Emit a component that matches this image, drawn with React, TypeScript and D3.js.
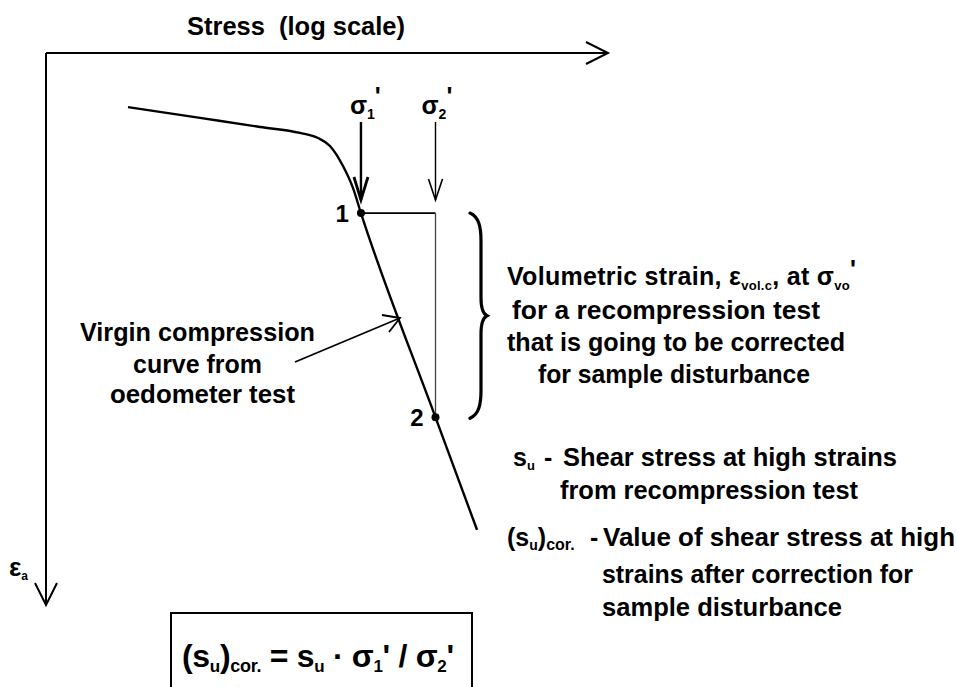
import React from "react";
import * as d3 from "d3";

const W = 957;
const H = 687;

// Oedometer curve (stress on log scale, axial strain in %)
const curveStress = [2.74, 6.64, 13.9, 22.7, 28.3, 32.8, 38.5, 43.5, 48];
const curveStrain = [2.45, 2.94, 3.35, 3.62, 3.85, 4.21, 5.12, 6.11, 7.25];
// Virgin compression line
const virginStress = [48, 120, 200];
const virginStrain = [7.25, 16.5, 21.6];
// Key points
const pointStress = [48, 120];
const pointStrain = [7.25, 16.5];
const pointLabels = ["1", "2"];
const stressDomain = [1, 1000];
const strainDomain = [0, 25];

const FONT = "'Liberation Sans', Arial, Helvetica, sans-serif";

export default function App() {
  const x = d3.scaleLog().domain(stressDomain).range([46, 608]);
  const y = d3.scaleLinear().domain(strainDomain).range([53, 605]);

  const pts: [number, number][] = [
    ...curveStress.map((s, i) => [s, curveStrain[i]] as [number, number]),
    ...virginStress.slice(1).map((s, i) => [s, virginStrain[i + 1]] as [number, number]),
  ];
  const line = d3
    .line<[number, number]>()
    .x((d) => x(d[0]))
    .y((d) => y(d[1]))
    .curve(d3.curveMonotoneX);

  const x0 = x(stressDomain[0]);
  const y0 = y(strainDomain[0]);
  const xEnd = x(stressDomain[1]);
  const yEnd = y(strainDomain[1]);

  const p1x = x(pointStress[0]);
  const p1y = y(pointStrain[0]);
  const p2x = x(pointStress[1]);
  const p2y = y(pointStrain[1]);

  const txt = { fontFamily: FONT, fontWeight: 700, fill: "#000", whiteSpace: "pre" } as const;

  // brace
  const bx = 472, bt = p1y, bb = p2y + 1, bm = (bt + bb) / 2;
  const brace = `M ${bx - 2} ${bt} C ${bx + 7} ${bt + 4}, ${bx + 9} ${bt + 14}, ${bx + 9} ${bt + 28}
    L ${bx + 9} ${bm - 18} C ${bx + 9} ${bm - 8}, ${bx + 11} ${bm - 2}, ${bx + 15} ${bm}
    C ${bx + 11} ${bm + 2}, ${bx + 9} ${bm + 8}, ${bx + 9} ${bm + 18}
    L ${bx + 9} ${bb - 28} C ${bx + 9} ${bb - 14}, ${bx + 7} ${bb - 4}, ${bx - 2} ${bb}`;

  const T = (props: { x: number; y: number; w: number; s: string; size?: number }) => (
    <text x={props.x} y={props.y} fontSize={props.size ?? 25} style={txt} textLength={props.w} lengthAdjust="spacingAndGlyphs">
      {props.s}
    </text>
  );

  return (
    <svg width={W} height={H} style={{ display: "block", position: "absolute", left: 0, top: 0, background: "#fff" }}>
      {/* Axes */}
      <g stroke="#000" strokeWidth={2} fill="none">
        <line x1={x0} y1={y0} x2={xEnd} y2={y0} />
        <polyline points={`${xEnd - 22},${y0 - 11} ${xEnd},${y0} ${xEnd - 22},${y0 + 11}`} />
        <line x1={x0} y1={y0} x2={x0} y2={yEnd} />
        <polyline points={`${x0 - 11},${yEnd - 22} ${x0},${yEnd} ${x0 + 11},${yEnd - 22}`} />
      </g>
      <T x={187} y={35} w={218} size={26} s={"Stress  (log scale)"} />
      <text x={9} y={576} fontSize={26} style={txt}>
        ε<tspan fontSize={12} dy={4}>a</tspan>
      </text>

      {/* curve */}
      <path d={line(pts) || ""} fill="none" stroke="#000" strokeWidth={2.4} />

      {/* sigma arrows */}
      <g fill="none" stroke="#000">
        <line x1={p1x} y1={122} x2={p1x} y2={200} strokeWidth={2.4} />
        <polyline points={`${p1x - 7},${177} ${p1x},${200} ${p1x + 7},${177}`} strokeWidth={2.8} />
        <line x1={p2x} y1={122} x2={p2x} y2={200} strokeWidth={1.4} />
        <polyline points={`${p2x - 7},${179} ${p2x},${200} ${p2x + 7},${179}`} strokeWidth={1.6} />
      </g>
      <text x={p1x - 11} y={114} fontSize={25} style={txt}>
        σ<tspan fontSize={14} dy={5}>1</tspan><tspan dy={-14}>'</tspan>
      </text>
      <text x={p2x - 14} y={114} fontSize={25} style={txt}>
        σ<tspan fontSize={14} dy={5}>2</tspan><tspan dy={-14}>'</tspan>
      </text>

      {/* construction lines */}
      <line x1={p1x} y1={p1y} x2={p2x} y2={p1y} stroke="#000" strokeWidth={1.6} />
      <line x1={p2x} y1={p1y} x2={p2x} y2={p2y} stroke="#444" strokeWidth={1.3} />
      {pointStress.map((s, i) => (
        <g key={i}>
          <circle cx={x(s)} cy={y(pointStrain[i])} r={4} fill="#000" />
          <text x={x(s) - 12} y={y(pointStrain[i]) + 9} textAnchor="end" fontSize={24} style={txt}>
            {pointLabels[i]}
          </text>
        </g>
      ))}

      {/* leader arrow */}
      <g stroke="#000" fill="none" strokeWidth={1.8}>
        <line x1={295} y1={362} x2={400} y2={318} />
        <polyline points={`${382},${315} ${400},${318} ${389},${332}`} />
      </g>
      <T x={80} y={341} w={235} s="Virgin compression" />
      <T x={133} y={373} w={129} s="curve from" />
      <T x={110} y={403} w={185} s="oedometer test" />

      {/* brace */}
      <path d={brace} fill="none" stroke="#000" strokeWidth={3.2} strokeLinecap="round" />
      <text x={507} y={285} fontSize={25} style={txt} letterSpacing={0.3}>
        Volumetric strain, ε<tspan fontSize={13} dy={5}>vol.c</tspan>
        <tspan dy={-5}>, at σ</tspan>
        <tspan fontSize={13} dy={5}>vo</tspan>
        <tspan dy={-12}>'</tspan>
      </text>
      <T x={512} y={319} w={308} s="for a recompression test" />
      <T x={507} y={351} w={338} s="that is going to be corrected" />
      <T x={538} y={383} w={272} s="for sample disturbance" />

      {/* definitions */}
      <text x={513} y={466} fontSize={25} style={txt}>
        s<tspan fontSize={13} dy={4}>u</tspan>
      </text>
      <text x={544} y={466} fontSize={25} style={txt}>-</text>
      <T x={563} y={466} w={334} s="Shear stress at high strains" />
      <T x={560} y={499} w={298} s="from recompression test" />
      <text x={507} y={546} fontSize={25} style={txt}>
        (s<tspan fontSize={14} dy={4}>u</tspan>
        <tspan dy={-4}>)</tspan>
        <tspan fontSize={16} dy={4}>cor.</tspan>
      </text>
      <text x={590} y={546} fontSize={25} style={txt}>-</text>
      <T x={603} y={546} w={352} s="Value of shear stress at high" />
      <T x={602} y={583} w={311} s="strains after correction for" />
      <T x={602} y={616} w={240} s="sample disturbance" />

      {/* formula box */}
      <rect x={171} y={613} width={301} height={80} fill="none" stroke="#000" strokeWidth={2} />
      <text x={182} y={667} fontSize={32} style={txt} letterSpacing={-0.3}>
        (s<tspan fontSize={17} dy={5}>u</tspan>
        <tspan dy={-5}>)</tspan>
        <tspan fontSize={18} dy={5}>cor.</tspan>
        <tspan dy={-5}> = s</tspan>
        <tspan fontSize={17} dy={5}>u</tspan>
        <tspan dy={-5}> · σ</tspan>
        <tspan fontSize={17} dy={5}>1</tspan>
        <tspan dy={-5}>' / σ</tspan>
        <tspan fontSize={17} dy={5}>2</tspan>
        <tspan dy={-5}>'</tspan>
      </text>
    </svg>
  );
}
